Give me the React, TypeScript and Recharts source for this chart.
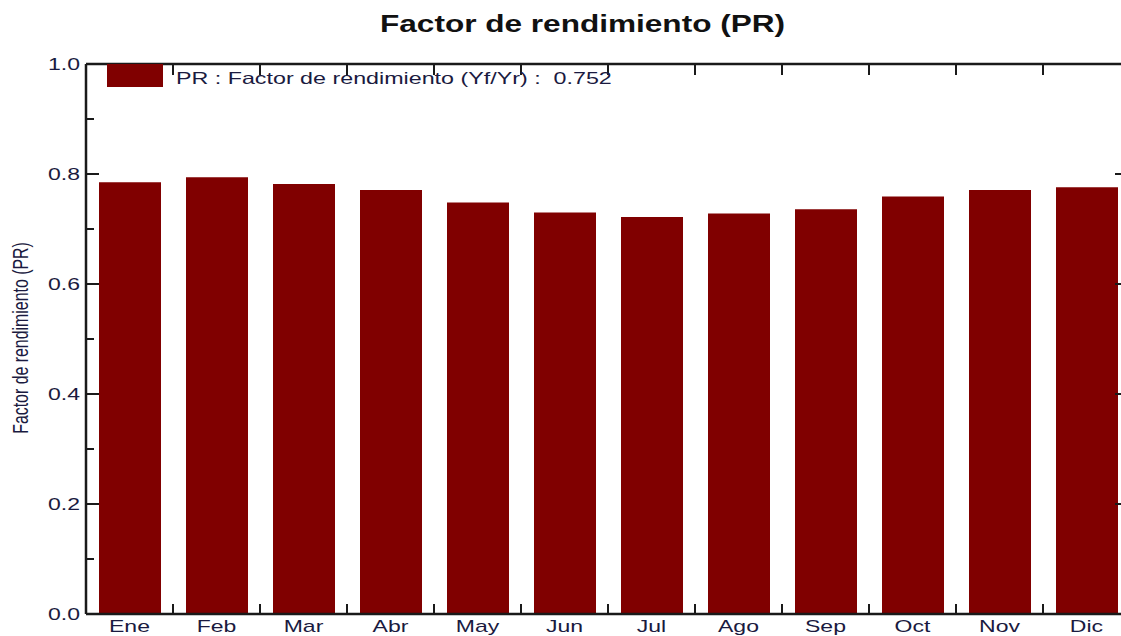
import React from 'react';
import { BarChart, Bar, XAxis, YAxis, Legend } from 'recharts';

const months = ['Ene', 'Feb', 'Mar', 'Abr', 'May', 'Jun', 'Jul', 'Ago', 'Sep', 'Oct', 'Nov', 'Dic'];
const prValues = [0.785, 0.794, 0.782, 0.771, 0.748, 0.730, 0.722, 0.728, 0.736, 0.759, 0.771, 0.776];
const yTicks = [0, 0.1, 0.2, 0.3, 0.4, 0.5, 0.6, 0.7, 0.8, 0.9, 1.0];
const yTickLabels = ['0.0', '', '0.2', '', '0.4', '', '0.6', '', '0.8', '', '1.0'];
const titleText = 'Factor de rendimiento (PR)';
const yAxisTitle = 'Factor de rendimiento (PR)';
const legendText = 'PR : Factor de rendimiento (Yf/Yr) :  0.752';

const data = months.map((m, i) => ({ month: m, pr: prValues[i] }));

const CHART_W = 1150;
const CHART_H = 636;
const LEFT_AXIS_W = 86;
const RIGHT_MARGIN = 20;
const PLOT_W = CHART_W - LEFT_AXIS_W - RIGHT_MARGIN;
const BAND = PLOT_W / months.length;
const FONT = '"Liberation Sans", Arial, sans-serif';
const TEXT_COLOR = '#1a1a40';
const AXIS_COLOR = '#1a1a1a';
const BAR_COLOR = '#800000';
const SX = 1.44;

const LeftTick = (props: any) => {
  const { x, y, index } = props;
  const major = index % 2 === 0;
  const len = major ? 13 : 8;
  const rlen = major ? 15 : 8;
  const rx = x + PLOT_W;
  return (
    <g>
      <line x1={x} x2={x + len} y1={y} y2={y} stroke={AXIS_COLOR} strokeWidth={2} />
      <line x1={rx - rlen} x2={rx} y1={y} y2={y} stroke={AXIS_COLOR} strokeWidth={2} />
      {yTickLabels[index] ? (
        <text
          transform={`translate(${x - 6},${y + 6}) scale(${SX},1)`}
          textAnchor="end"
          fontFamily={FONT}
          fontSize={16}
          fill={TEXT_COLOR}
        >
          {yTickLabels[index]}
        </text>
      ) : null}
    </g>
  );
};

const BottomTick = (props: any) => {
  const { x, y, index, payload } = props;
  return (
    <g>
      {index < months.length - 1 ? (
        <line x1={x + BAND / 2} x2={x + BAND / 2} y1={y} y2={y - 10} stroke={AXIS_COLOR} strokeWidth={2} />
      ) : null}
      <text
        transform={`translate(${x},${y + 18}) scale(${SX},1)`}
        textAnchor="middle"
        fontFamily={FONT}
        fontSize={16}
        fill={TEXT_COLOR}
      >
        {payload.value}
      </text>
    </g>
  );
};

const TopTick = (props: any) => {
  const { x, y, index } = props;
  if (index >= months.length - 1) return <g />;
  return <line x1={x + BAND / 2} x2={x + BAND / 2} y1={y + 1} y2={y + 11} stroke={AXIS_COLOR} strokeWidth={2} />;
};

const YTitle = (props: any) => {
  const vb = props.viewBox || {};
  const cy = (vb.y ?? 64) + (vb.height ?? 550) / 2;
  return (
    <text
      transform={`translate(28,${cy - 1}) scale(1.4,1) rotate(-90)`}
      textAnchor="middle"
      fontFamily={FONT}
      fontSize={15.9}
      fill={TEXT_COLOR}
    >
      {yAxisTitle}
    </text>
  );
};

const LegendContent = () => (
  <div style={{ position: 'relative', width: 560, height: 24 }}>
    <div style={{ position: 'absolute', left: 0, top: 0, width: 56, height: 23, background: BAR_COLOR }} />
    <div
      style={{
        position: 'absolute',
        left: 69,
        top: 6,
        fontFamily: FONT,
        fontSize: 16.5,
        lineHeight: '16.5px',
        color: TEXT_COLOR,
        whiteSpace: 'pre',
        transform: `scaleX(${1.41})`,
        transformOrigin: 'left top',
      }}
    >
      {legendText}
    </div>
  </div>
);

export default function App() {
  return (
    <div
      style={{
        position: 'absolute',
        left: 0,
        top: 0,
        width: 1121,
        height: 636,
        overflow: 'hidden',
        background: '#ffffff',
      }}
    >
      <div
        style={{
          position: 'absolute',
          left: 380,
          top: 11.7,
          fontFamily: FONT,
          fontWeight: 'bold',
          fontSize: 24,
          lineHeight: '24px',
          color: '#111111',
          whiteSpace: 'nowrap',
          transform: 'scaleX(1.315)',
          transformOrigin: 'left top',
          zIndex: 2,
        }}
      >
        {titleText}
      </div>
      <BarChart
        width={CHART_W}
        height={CHART_H}
        data={data}
        margin={{ top: 63, right: RIGHT_MARGIN, bottom: 0, left: 0 }}
        style={{ position: 'absolute', left: 0, top: 0 }}
      >
        <XAxis
          dataKey="month"
          height={22}
          interval={0}
          tickSize={0}
          tickMargin={0}
          tickLine={false}
          axisLine={{ stroke: AXIS_COLOR, strokeWidth: 2.5 }}
          tick={<BottomTick />}
        />
        <XAxis
          xAxisId="top"
          dataKey="month"
          orientation="top"
          height={1}
          interval={0}
          tickSize={0}
          tickMargin={0}
          tickLine={false}
          axisLine={{ stroke: AXIS_COLOR, strokeWidth: 2.5 }}
          tick={<TopTick />}
        />
        <YAxis
          width={LEFT_AXIS_W}
          domain={[0, 1]}
          ticks={yTicks}
          interval={0}
          tickSize={0}
          tickMargin={0}
          tickLine={false}
          axisLine={{ stroke: AXIS_COLOR, strokeWidth: 2.5 }}
          tick={<LeftTick />}
          label={<YTitle />}
        />
        <Legend
          layout="horizontal"
          verticalAlign="middle"
          align="center"
          content={<LegendContent />}
          wrapperStyle={{ left: 107, top: 64, width: 560, height: 24 }}
        />
        <Bar dataKey="pr" fill={BAR_COLOR} barSize={62} isAnimationActive={false} />
      </BarChart>
    </div>
  );
}
